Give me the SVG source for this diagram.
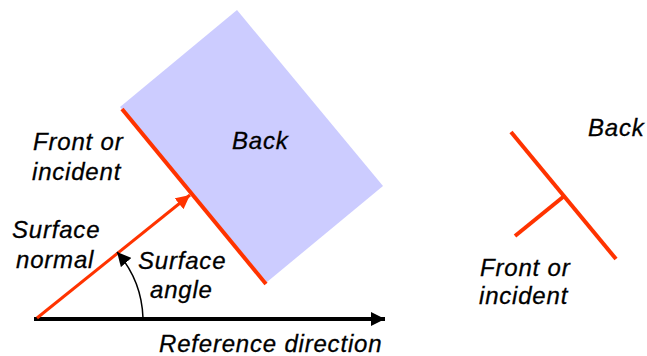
<svg xmlns="http://www.w3.org/2000/svg" width="647" height="356" viewBox="0 0 647 356">
<defs>
<style>
text{font-family:"Liberation Sans",Arial,sans-serif;font-style:italic;font-size:24px;fill:#000;stroke:#000;stroke-width:0.3px;letter-spacing:0.8px}
.red{stroke:#FF3300;fill:none;stroke-width:4}
</style>
<marker id="ahr" viewBox="0 0 10 10" refX="10" refY="5" markerWidth="14" markerHeight="14" markerUnits="userSpaceOnUse" orient="auto"><path d="M0,0L10,5L0,10z" fill="#FF3300"/></marker>
<marker id="ahb" viewBox="0 0 10 10" refX="10" refY="5" markerWidth="14" markerHeight="14" markerUnits="userSpaceOnUse" orient="auto"><path d="M0,0L10,5L0,10z" fill="#000"/></marker>
</defs>
<g id="surface">
<polygon points="237,10 383,186 267,282 120,107" fill="#CCCCFF"/>
<line class="red" x1="122" y1="109" x2="266" y2="284"/>
</g>
<g id="connectors">
<line x1="34" y1="319" x2="385" y2="319" stroke="#000" stroke-width="4" marker-end="url(#ahb)"/>
<line x1="37" y1="318" x2="190" y2="195" stroke="#FF3300" stroke-width="3" marker-end="url(#ahr)"/>
<path d="M143,318 A106,106 0 0 0 117,252" fill="none" stroke="#000" stroke-width="1.5" marker-end="url(#ahb)"/>
</g>
<g id="labels">
<text x="33" y="150">Front or</text>
<text x="32" y="180">incident</text>
<text x="232" y="149">Back</text>
<text x="12" y="238">Surface</text>
<text x="16" y="268">normal</text>
<text x="138" y="269">Surface</text>
<text x="150" y="298">angle</text>
<text x="159" y="352">Reference direction</text>
</g>
<g id="symbol">
<line class="red" x1="511" y1="132" x2="616" y2="259"/>
<line class="red" x1="563" y1="197" x2="515" y2="236"/>
<text x="588" y="136">Back</text>
<text x="480" y="276">Front or</text>
<text x="479" y="304">incident</text>
</g>
</svg>
